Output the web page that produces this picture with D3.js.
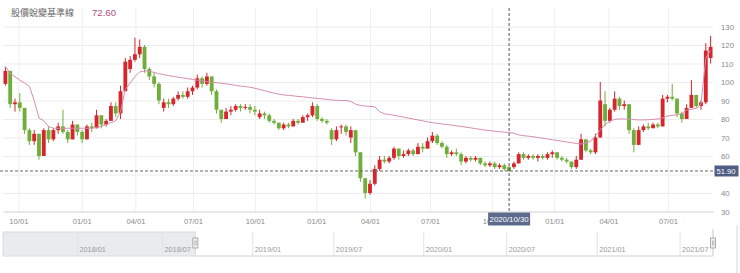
<!DOCTYPE html>
<html>
<head>
<meta charset="utf-8">
<script src="https://cdn.jsdelivr.net/npm/d3@7"></script>
<style>
body{margin:0;background:#fff;}
svg{display:block;font-family:"Liberation Sans",Arial,sans-serif;}
</style>
</head>
<body>
<div id="chart"></div>
<script>
var width = 740;
var height = 273;

// weekly candles (red = up, green = down)
var open  = [99,106,88,89,86,74,68,72,60,74,69,74,76,73,69,77,73,69,76,75,82,77,79,87,83,95,107,112,115,119,107,103,99,86,89,88,91,93,92,95,
             97,102,99,103,95,85,80,84,85,87,86,86.5,85,81,83,82,79,78,75,77,76,79,78,81,82,87,80,79,74,69,76,76,70,74,62,48,40,45,53,58,
             57,59,64,60,61,63,61,65,64,68,71,67,65,61,62,61,57,59,58,59,56,55,56,54,55,54,54,56,61,59,60,59,60,59,61,62,59,58,57,54,
             58,69,63,62,70,88,79,85,91,87,88,74,66,74,76,75,77,76,91,92,91,83,80,86,93,87,89,113];
var high  = [108,106,91,94,86,75,74,72,75,76,75,78,85,74,79,77,74,77,78,85,82,80,89,89,98,113,114,124,123,120,108,105,100,91,91,92,95,95,97,98,
             104,103,105,103,96,85,86,87,88,88,88,88,87,85,84,83,80,78,78,78,80,80,82,83,89,88,81,80,75,76,77,77,76,74,62,48,47,55,60,60,
             60,65,64,63,64,64,67,67,70,73,72,68,66,63,64,62,60,60,60,59,57,57,57,56,56,55,57,62,62,61,61,61,61,62,63,62,60,59,57,60,
             72,69,64,72,100,95,86,95,92,90,88,75,76,77,78,78,78,93,93,99,91,84,88,101,93,90,121,125];
var low   = [98,86,84,84,72,66,66,58,60,67,68,72,72,67,69,71,67,69,73,75,75,76,79,81,80,95,105,111,113,105,101,97,88,84,86,87,90,91,91,93,
             96,97,98,93,83,78,80,82,84,84,85,83,82,80,80,78,77,74,74,75,76,77,78,79,81,79,78,77,66,68,72,71,67,60,46,37,39,44,52,56,
             56,58,58,59,60,60,61,62,64,67,66,64,59,60,60,55,56,57,57,55,54,54,53,53,52,51.5,53,56,58,58,58,57,58,58,59,58,57,56,53,53,
             58,62,61,61,70,76,78,84,85,85,72,62,66,73,74,75,75,76,89,90,81,78,80,86,86,85,88,110];
var close = [106,88,89,86,74,68,72,60,74,69,74,76,73,69,77,73,69,76,75,82,77,79,87,83,95,111,112,115,119,107,103,99,90,89,88,91,93,92,95,97,
             102,99,103,95,85,80,84,85,87,86,86.5,85,84,83,82,79,78,75,77,76,79,78,81,82,87,80,79,78,69,74,76,73,74,62,48,40,45,53,58,57,
             59,64,60,61,63,61,65,64,68,71,67,65,61,62,61,57,59,58,59,56,55,56,54,55,53,51.9,56,61,59,60,59,60,59,61,62,59,58,57,54,58,
             69,63,62,70,90,79,85,91,87,88,74,66,74,76,75,77,76,91,92,91,83,80,86,93,87,89,117,119];
// 股價蛻變基準線 (pink line), one value per candle
var baseline = [108.5,104.6,102.8,101,99.4,97.7,90,80.5,79,76,75,75,75,75,75,75,75,75,75,75.5,76,77,78,79,84,96,99.5,103,105.4,106,
                105.8,105.2,104.5,104,103.5,103,102.6,102.2,101.8,101.4,101,100.6,100.2,99.9,99.6,99.3,99,98.6,98.2,97.8,97.5,97.2,96.6,96,95.3,94.6,94,93.4,93,92.8,
                92.5,92.2,92,91.7,91.4,91.1,90.9,90.6,90.3,90.1,90,90,89.5,88,87.3,87,86.8,86.6,84,82.8,82.5,82,81.5,81,80.5,80,79.5,79,78.5,78,
                77.7,77.3,77,76.7,76.3,76,75.6,75.2,74.8,74.4,74,73.7,73.4,73.1,72.9,72.6,72.4,71.4,71,70.7,70.4,70,69.6,69.2,68.8,68.4,68,67.6,67.2,66.8,
                66.5,67,68,71,74,77,78.8,79.8,80,80,80,79.7,79.5,79.5,79.6,79.8,80,80.5,81.6,82,82.2,83,84.9,85.3,85.7,88,113,117];

var yTicks = [40,50,60,70,80,90,100,110,120,130];
// month ticks, position given in candle (week) units
var tickMonths = ["2018/01","2018/07","2018/10","2019/01","2019/04","2019/07","2019/10","2020/01","2020/04","2020/07","2020/10","2021/01","2021/04","2021/07"];
var tickWeeks  = [-33.7,-9.4,3.2,16.4,27.6,39.6,52.5,65.3,76.5,89.0,101.9,114.9,126.2,138.6];
var navStart = -55;

var hoverIndex = 105;
var hoverDate = "2020/10/30";
var title = "股價蛻變基準線";

var N = close.length;
var upColor = "#d4262c", downColor = "#6fae3a";

var svg = d3.select("#chart").append("svg")
    .attr("width", width)
    .attr("height", height);

var x = d3.scaleLinear().domain([0, N]).range([3, 713]);
var y = d3.scaleLinear().domain([30, 140]).range([211.5, 8]);
var step = x(1) - x(0);
var hx = x(hoverIndex + 0.5), hy = y(close[hoverIndex]);

// gridlines
svg.append("g")
    .attr("transform", "translate(3,0)")
    .call(d3.axisRight(y).tickValues(yTicks).tickSize(710).tickFormat(""))
    .call(function(g){ g.select(".domain").remove(); g.selectAll("line").attr("stroke", "#ececec"); });

var mainTicks = [], mainLabels = [];
tickWeeks.forEach(function(w, i){
    if(w >= 0 && w <= N){ mainTicks.push(w); mainLabels.push(tickMonths[i].slice(5) + "/01"); }
});

svg.append("g")
    .attr("transform", "translate(0,8)")
    .call(d3.axisBottom(x).tickValues(mainTicks).tickSize(203.5).tickFormat(""))
    .call(function(g){ g.select(".domain").remove(); g.selectAll("line").attr("stroke", "#efefef"); });

// x axis
var xAxis = svg.append("g")
    .attr("transform", "translate(0,211.5)")
    .call(d3.axisBottom(x).tickValues(mainTicks).tickSize(0).tickPadding(7)
        .tickFormat(function(d, i){ return mainLabels[i]; }));
xAxis.select(".domain").attr("stroke", "#d0d0d0");
xAxis.selectAll("text").attr("fill", "#8a8a8a").attr("font-size", "7.6px");

// y axis on the right; the label under the crosshair value box is hidden
var yAxis = svg.append("g")
    .attr("transform", "translate(716,0)")
    .call(d3.axisRight(y).tickValues(yTicks.concat([30])).tickSize(0).tickPadding(5));
yAxis.select(".domain").remove();
yAxis.selectAll("text").attr("fill", "#8a8a8a").attr("font-size", "7.8px");
yAxis.selectAll(".tick").filter(function(d){ return Math.abs(y(d) - hy) < 9; }).remove();

// candles
var idx = d3.range(N);
var candles = svg.append("g").selectAll("g")
    .data(idx)
    .enter()
    .append("g");

candles.append("line")
    .attr("x1", function(i){ return x(i + 0.5); })
    .attr("x2", function(i){ return x(i + 0.5); })
    .attr("y1", function(i){ return y(high[i]); })
    .attr("y2", function(i){ return y(low[i]); })
    .attr("stroke", function(i){ return close[i] >= open[i] ? upColor : downColor; })
    .attr("stroke-width", 1);

candles.append("rect")
    .attr("x", function(i){ return x(i + 0.5) - step * 0.4; })
    .attr("width", step * 0.8)
    .attr("y", function(i){ return y(Math.max(open[i], close[i])); })
    .attr("height", function(i){ return Math.max(1, Math.abs(y(open[i]) - y(close[i]))); })
    .attr("fill", function(i){ return close[i] >= open[i] ? upColor : downColor; });

// baseline line
var line = d3.line()
    .x(function(d, i){ return x(i + 0.5); })
    .y(function(d){ return y(d); });

svg.append("path")
    .datum(baseline)
    .attr("d", line)
    .attr("fill", "none")
    .attr("stroke", "#d68db2")
    .attr("stroke-width", 1);

// crosshair
svg.append("line")
    .attr("x1", hx).attr("x2", hx).attr("y1", 8).attr("y2", 211.5)
    .attr("stroke", "#555").attr("stroke-dasharray", "3,2");
svg.append("line")
    .attr("x1", 0).attr("x2", 713).attr("y1", hy).attr("y2", hy)
    .attr("stroke", "#666").attr("stroke-dasharray", "3,2");

var dateBox = svg.append("g").attr("transform", "translate(" + hx + ",219)");
dateBox.append("rect")
    .attr("x", -21).attr("y", -6.5).attr("width", 42).attr("height", 13)
    .attr("fill", "#5c6a8c");
dateBox.append("text")
    .attr("text-anchor", "middle").attr("dy", "0.35em")
    .attr("fill", "#fff").attr("font-size", "7.8px")
    .text(hoverDate);

var valBox = svg.append("g").attr("transform", "translate(726," + hy + ")");
valBox.append("rect")
    .attr("x", -11.5).attr("y", -5.5).attr("width", 24).attr("height", 11)
    .attr("fill", "#4f5d82");
valBox.append("text")
    .attr("text-anchor", "middle").attr("dy", "0.35em")
    .attr("fill", "#fff").attr("font-size", "7.6px")
    .text(close[hoverIndex].toFixed(2));

// header
svg.append("text")
    .attr("x", 11).attr("y", 15.5)
    .attr("font-family", "'Noto Sans CJK TC', sans-serif")
    .attr("font-size", "9px").attr("fill", "#666")
    .text(title);
svg.append("text")
    .attr("x", 92).attr("y", 15.5)
    .attr("font-size", "9.6px").attr("fill", "#b2507f")
    .text(baseline[hoverIndex].toFixed(2));

// navigator
var nav = d3.scaleLinear().domain([navStart, N]).range([3, 713]);
var navTop = 232, navBottom = 256;
var navG = svg.append("g");

navG.append("rect")
    .attr("x", nav(navStart)).attr("y", navTop)
    .attr("width", nav(0) - nav(navStart)).attr("height", navBottom - navTop)
    .attr("fill", "#e9ebee").attr("stroke", "#dcdcdc");

var navTicks = [], navLabels = [];
tickWeeks.forEach(function(w, i){
    var m = tickMonths[i].slice(5);
    if(m == "01" || m == "07"){ navTicks.push(w); navLabels.push(tickMonths[i]); }
});

navG.selectAll(".ng")
    .data(navTicks)
    .enter()
    .append("line")
        .attr("x1", function(d){ return nav(d); })
        .attr("x2", function(d){ return nav(d); })
        .attr("y1", navTop).attr("y2", navBottom)
        .attr("stroke", "#e3e3e3");

navG.selectAll(".nl")
    .data(navTicks)
    .enter()
    .append("text")
        .attr("x", function(d){ return nav(d) + 2; })
        .attr("y", 252)
        .attr("font-size", "7.3px").attr("fill", "#9a9a9a")
        .text(function(d, i){ return navLabels[i]; });

navG.append("line")
    .attr("x1", nav(0)).attr("x2", nav(N)).attr("y1", navBottom).attr("y2", navBottom)
    .attr("stroke", "#cfcfcf");
navG.append("line")
    .attr("x1", nav(N)).attr("x2", nav(N)).attr("y1", navTop - 3).attr("y2", navBottom)
    .attr("stroke", "#c8c8c8");

[0, N].forEach(function(w){
    var hxN = nav(w);
    navG.append("rect")
        .attr("x", hxN - 2.5).attr("y", 238).attr("width", 5).attr("height", 10)
        .attr("fill", "#f2f2f2").attr("stroke", "#999").attr("stroke-width", 0.8);
    navG.append("line")
        .attr("x1", hxN - 0.5).attr("x2", hxN - 0.5).attr("y1", 240.5).attr("y2", 245.5)
        .attr("stroke", "#999").attr("stroke-width", 0.6);
    navG.append("line")
        .attr("x1", hxN + 0.8).attr("x2", hxN + 0.8).attr("y1", 240.5).attr("y2", 245.5)
        .attr("stroke", "#999").attr("stroke-width", 0.6);
});

svg.append("line")
    .attr("x1", 737).attr("x2", 737).attr("y1", 225).attr("y2", height)
    .attr("stroke", "#d8d8d8");
</script>
</body>
</html>
